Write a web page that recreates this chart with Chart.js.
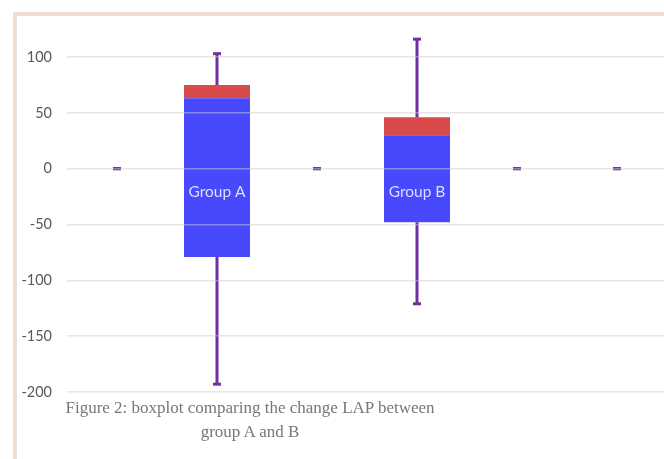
<!DOCTYPE html>
<html>
<head>
<meta charset="utf-8">
<script src="https://cdn.jsdelivr.net/npm/chart.js@4"></script>
<style>
    html, body { margin: 0; padding: 0; background: #fff; overflow: hidden; }
    #frame {
        position: absolute; left: 13px; top: 12px; width: 700px; height: 500px;
        border-left: 3px solid #f2ddd0; border-top: 3px solid #f2ddd0;
        box-shadow: inset 1px 1px 0 #e4e4e4;
    }
    #wrap { position: absolute; left: 0; top: 0; width: 690px; height: 459px; }
    #caption {
        position: absolute; left: 40px; width: 420px; top: 396px;
        text-align: center; font-family: 'Liberation Serif', 'DejaVu Serif', serif;
        font-size: 17px; line-height: 24px; color: #777;
    }
</style>
</head>
<body>
<div id="frame"></div>
<div id="wrap"><canvas id="boxChart" width="690" height="459"></canvas></div>
<div id="caption">Figure 2: boxplot comparing the change LAP between<br>group A and B</div>
<script>
// Box plot values
const categories = ['', 'Group A', '', 'Group B', '', ''];
const q1 = [null, -79, null, -48, null, null];
const median = [null, 63, null, 30, null, null];
const q3 = [null, 75, null, 46, null, null];
const whiskerLow = [0, -193, 0, -121, 0, 0];
const whiskerHigh = [0, 103, 0, 116, 0, 0];
const yTicks = [-200, -150, -100, -50, 0, 50, 100];

const lowerBox = categories.map((c, i) => q1[i] === null ? null : [q1[i], median[i]]);
const upperBox = categories.map((c, i) => q3[i] === null ? null : [median[i], q3[i]]);

// Whiskers, caps and box labels drawn through the chart's scales
const whiskerPlugin = {
    id: 'whiskers',
    afterDatasetsDraw(chart) {
        const ctx = chart.ctx;
        const x = chart.scales.x;
        const y = chart.scales.y;
        ctx.save();
        ctx.strokeStyle = '#7030a0';
        ctx.fillStyle = '#7030a0';
        ctx.lineWidth = 3;
        categories.forEach((c, i) => {
            const cx = x.getPixelForValue(i);
            const yLo = y.getPixelForValue(whiskerLow[i]);
            const yHi = y.getPixelForValue(whiskerHigh[i]);
            if (q1[i] !== null) {
                ctx.beginPath();
                ctx.moveTo(cx, yHi);
                ctx.lineTo(cx, y.getPixelForValue(q3[i]));
                ctx.moveTo(cx, y.getPixelForValue(q1[i]));
                ctx.lineTo(cx, yLo);
                ctx.stroke();
            }
            ctx.fillRect(cx - 4, yHi - 1.5, 8, 3);
            ctx.fillRect(cx - 4, yLo - 1.5, 8, 3);
        });
        ctx.fillStyle = '#dedeff';
        ctx.font = '15.5px Lato, "Open Sans", sans-serif';
        ctx.textAlign = 'center';
        ctx.textBaseline = 'middle';
        categories.forEach((c, i) => {
            if (c) ctx.fillText(c, x.getPixelForValue(i), y.getPixelForValue(-21));
        });
        ctx.restore();
    }
};

new Chart(document.getElementById('boxChart'), {
    type: 'bar',
    data: {
        labels: categories,
        datasets: [{
            label: 'Q1 - Median',
            data: lowerBox,
            backgroundColor: '#4848fd',
            borderWidth: 0
        }, {
            label: 'Median - Q3',
            data: upperBox,
            backgroundColor: '#d94a4a',
            borderWidth: 0
        }]
    },
    options: {
        responsive: false,
        animation: false,
        layout: {
            padding: { top: 57, right: 23, bottom: 67, left: 0 }
        },
        datasets: {
            bar: { categoryPercentage: 1, barPercentage: 0.66 }
        },
        scales: {
            x: {
                stacked: true,
                display: false
            },
            y: {
                min: -200,
                max: 100,
                afterBuildTicks(scale) {
                    scale.ticks = yTicks.map(v => ({ value: v }));
                },
                afterFit(scale) {
                    scale.width = 67;
                },
                border: { display: false },
                grid: {
                    color: 'rgba(205, 205, 205, 0.5)',
                    lineWidth: 1.5,
                    drawTicks: false,
                    z: 1
                },
                ticks: {
                    padding: 15,
                    color: '#595959',
                    font: { family: "Lato, 'Open Sans', sans-serif", size: 14.5 }
                }
            }
        },
        plugins: {
            legend: { display: false },
            tooltip: { enabled: false }
        }
    },
    plugins: [whiskerPlugin]
});
</script>
</body>
</html>
